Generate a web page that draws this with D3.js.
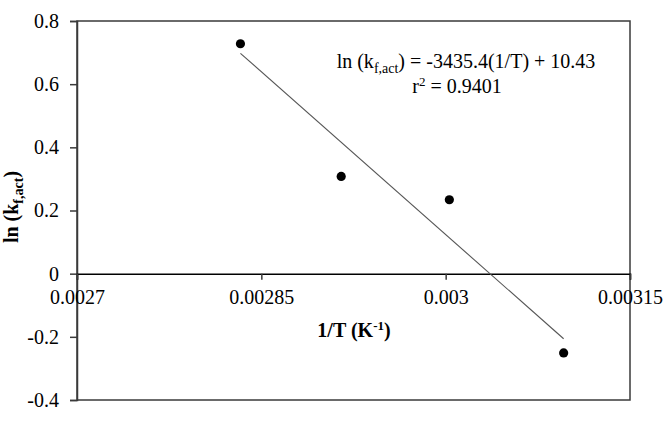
<!DOCTYPE html>
<html><head><meta charset="utf-8">
<script src="https://cdn.jsdelivr.net/npm/d3@7"></script>
<style>body{margin:0;background:#fff}svg{display:block}text{font-family:"Liberation Serif","Times New Roman",serif;fill:#000}</style>
</head><body><svg id="c" width="665" height="423"></svg>
<script>
const invT = [0.002833, 0.002915, 0.003003, 0.003096];
const lnK = [0.728, 0.308, 0.234, -0.251];
const xTicks = [0.0027, 0.00285, 0.003, 0.00315];
const xTickLabels = ["0.0027", "0.00285", "0.003", "0.00315"];
const yTicks = [-0.4, -0.2, 0, 0.2, 0.4, 0.6, 0.8];
const yTickLabels = ["-0.4", "-0.2", "0", "0.2", "0.4", "0.6", "0.8"];
const slope = -3435.4, intercept = 10.43;

const svg = d3.select("#c");
const L = 77, R = 630, T = 21, B = 400;
const x = d3.scaleLinear().domain([0.0027, 0.00315]).range([L, R]);
const y = d3.scaleLinear().domain([-0.4, 0.8]).range([B, T]);
const FS = "20px";

// frame
svg.append("rect").attr("x", L).attr("y", T).attr("width", R - L).attr("height", B - T)
  .attr("fill", "none").attr("stroke", "#3a3a3a").attr("stroke-width", 1.5);

// y axis
const ya = svg.append("g").attr("transform", `translate(${L},0)`)
  .call(d3.axisLeft(y).tickValues(yTicks).tickSize(7).tickPadding(11)
    .tickFormat((d, i) => yTickLabels[i]));
ya.select(".domain").attr("stroke", "#3a3a3a").attr("stroke-width", 1.5);
ya.selectAll(".tick line").attr("stroke", "#3a3a3a").attr("stroke-width", 1.5);
ya.selectAll("text").style("font-size", FS).style("font-family", "Liberation Serif");

// x axis at y=0
const xa = svg.append("g").attr("transform", `translate(0,${y(0)})`)
  .call(d3.axisBottom(x).tickValues(xTicks).tickSize(6).tickPadding(10)
    .tickFormat((d, i) => xTickLabels[i]));
xa.select(".domain").attr("stroke", "#000").attr("stroke-width", 1.5);
xa.selectAll(".tick line").attr("stroke", "#3a3a3a").attr("stroke-width", 1.5);
xa.selectAll("text").style("font-size", FS).style("font-family", "Liberation Serif");

// trendline
const x0 = d3.min(invT), x1 = d3.max(invT);
svg.append("line")
  .attr("x1", x(x0)).attr("y1", y(slope * x0 + intercept))
  .attr("x2", x(x1)).attr("y2", y(slope * x1 + intercept))
  .attr("stroke", "#555").attr("stroke-width", 1.1);

// points
svg.selectAll("circle.p").data(invT).enter().append("circle")
  .attr("cx", d => x(d)).attr("cy", (d, i) => y(lnK[i])).attr("r", 4.6).attr("fill", "#000");

// equation
const eq = svg.append("text").attr("x", 466).attr("y", 68).attr("text-anchor", "middle").style("font-size", FS);
eq.append("tspan").text("ln (k");
eq.append("tspan").text("f,act").attr("dy", 5).style("font-size", "14px");
eq.append("tspan").text(") = -3435.4(1/T) + 10.43").attr("dy", -5);
const r2 = svg.append("text").attr("x", 457).attr("y", 93).attr("text-anchor", "middle").style("font-size", FS);
r2.append("tspan").text("r");
r2.append("tspan").text("2").attr("dy", -7).style("font-size", "13px");
r2.append("tspan").text(" = 0.9401").attr("dy", 7);

// x title
const xt = svg.append("text").attr("x", 354).attr("y", 337).attr("text-anchor", "middle")
  .style("font-size", FS).style("font-weight", "bold");
xt.append("tspan").text("1/T (K");
xt.append("tspan").text("-1").attr("dy", -7).style("font-size", "13px");
xt.append("tspan").text(")").attr("dy", 7);

// y title
const yt = svg.append("text").attr("transform", "translate(18,207) rotate(-90)").attr("text-anchor", "middle")
  .style("font-size", FS).style("font-weight", "bold");
yt.append("tspan").text("ln (k");
yt.append("tspan").text("f,act").attr("dy", 5).style("font-size", "14px");
yt.append("tspan").text(")").attr("dy", -5);
</script></body></html>
